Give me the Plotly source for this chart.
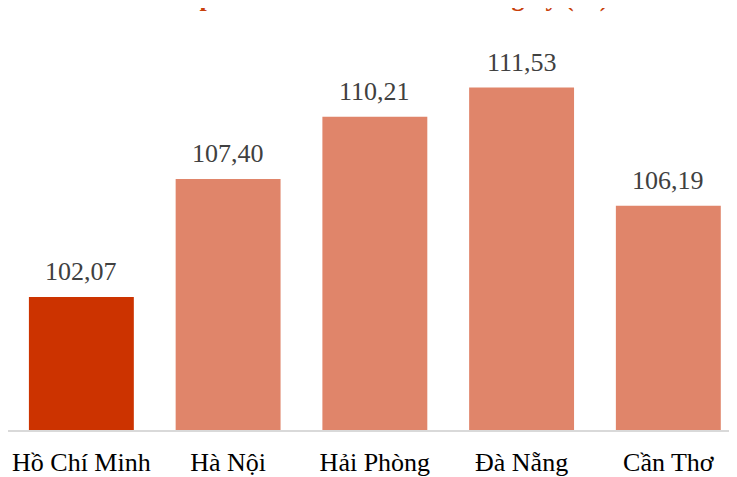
import plotly.graph_objects as go

categories = ["Hồ Chí Minh", "Hà Nội", "Hải Phòng", "Đà Nẵng", "Cần Thơ"]
values = [102.07, 107.40, 110.21, 111.53, 106.19]
labels = ["102,07", "107,40", "110,21", "111,53", "106,19"]
colors = ["#CC3300", "#E0856A", "#E0856A", "#E0856A", "#E0856A"]
title_text = "Chỉ số phát triển kinh tế so với cùng kỳ (%)"

fig = go.Figure(go.Bar(
    x=categories, y=values,
    marker=dict(color=colors, line=dict(width=0)),
    hoverinfo="x+y",
))

for c, v, t in zip(categories, values, labels):
    fig.add_annotation(
        x=c, y=v, text=t, showarrow=False, xanchor="center", yanchor="bottom",
        yshift=9, font=dict(family="Liberation Serif", size=26, color="#404040"),
    )

fig.add_annotation(
    text="<b>" + title_text + "</b>", xref="paper", yref="paper",
    x=0.826, y=1, xanchor="right", yanchor="bottom", yshift=16, showarrow=False,
    font=dict(family="Liberation Serif", size=26, color="#C8400A"),
)

fig.update_layout(
    width=737, height=477,
    margin=dict(l=0, r=8, t=22, b=55),
    plot_bgcolor="white", paper_bgcolor="white",
    bargap=0.285, showlegend=False,
    xaxis=dict(range=[-0.5, 4.468], showline=True, linecolor="#D9D9D9", linewidth=2,
               ticks="", ticklabelstandoff=8,
               tickfont=dict(family="Liberation Serif", size=26, color="#000000")),
    yaxis=dict(range=[96.06, 114.13], visible=False, showgrid=False),
)

fig.write_html("out.html")
